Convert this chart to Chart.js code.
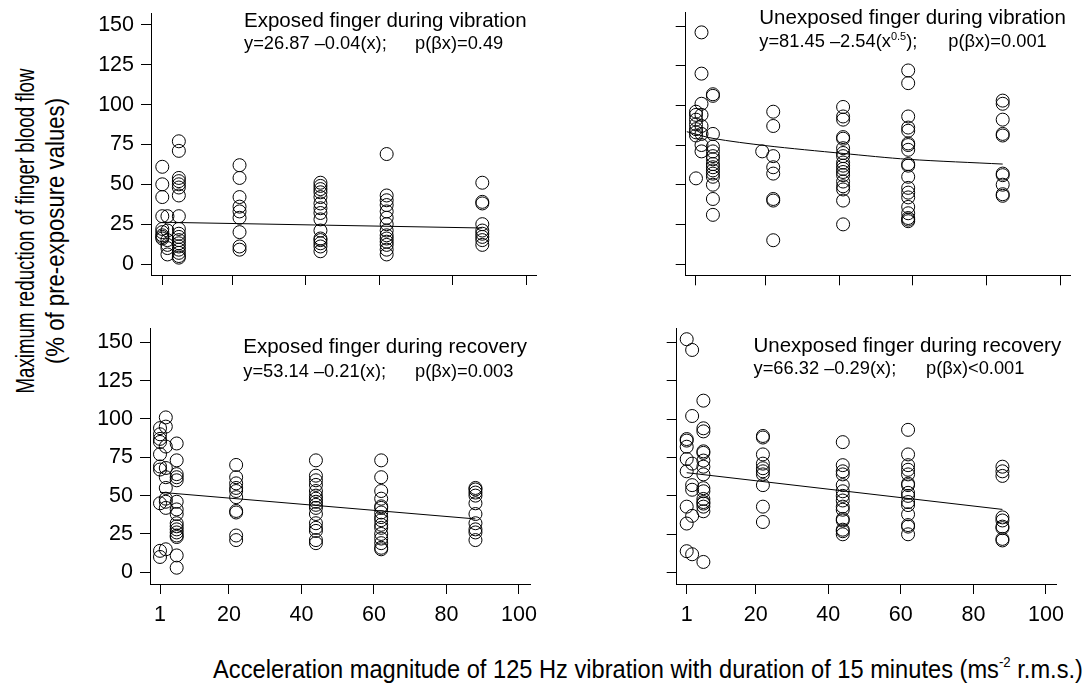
<!DOCTYPE html>
<html><head><meta charset="utf-8">
<script src="https://cdn.jsdelivr.net/npm/chart.js@4.4.1/dist/chart.umd.min.js"></script>
<style>
html,body{margin:0;padding:0;background:#fff;width:1089px;height:687px;overflow:hidden;position:relative;font-family:"Liberation Sans",Arial,sans-serif;color:#000}
canvas{position:absolute}
.t{position:absolute;white-space:nowrap;line-height:1;transform-origin:center center;left:0;top:0}
.t sup{font-size:14px;vertical-align:baseline;position:relative;top:-11px}
</style></head><body>
<canvas id="c0"></canvas>
<canvas id="c1"></canvas>
<canvas id="c2"></canvas>
<canvas id="c3"></canvas>
<div id="ytitle1" class="t" style="font-size:25px">Maximum reduction of finger blood flow</div>
<div id="ytitle2" class="t" style="font-size:25px">(% of pre-exposure values)</div>
<div id="xtitle" class="t" style="font-size:25px">Acceleration magnitude of 125 Hz vibration with duration of 15 minutes (ms<sup>-2</sup> r.m.s.)</div>
<script>
// ---- data ----
const xTicks = [1, 20, 40, 60, 80, 100];
const xTickLabels = ['1', '20', '40', '60', '80', '100'];
const yTicks = [0, 25, 50, 75, 100, 125, 150];
const yTickLabels = ['0', '25', '50', '75', '100', '125', '150'];

// Exposed finger during vibration
const expVibX = [1, 2.4, 5.5, 22, 44, 62, 88];
const expVibY = [
  [61, 50, 42, 30, 22, 20, 18, 17, 16],
  [30, 21, 15, 12, 10, 6],
  [77, 71, 54, 52, 50, 48, 43, 30, 22, 19, 17, 15, 13, 11, 9, 7, 5, 4],
  [62, 54, 42, 36, 33, 29, 20, 11, 9],
  [51, 49, 47, 45, 42, 38, 35, 32, 28, 21, 16, 15, 13, 11, 8],
  [69, 43, 40, 37, 33, 29, 25, 21, 18, 16, 14, 12, 9, 6],
  [51, 39, 38, 25, 21, 19, 17, 15, 12]
];
const expVibFitX = [1, 88];
const expVibFitY = [26.2, 22.6];

// Unexposed finger during vibration
const unexpVibX = [1, 2.5, 5.6, 19, 22, 41, 58.7, 84.4];
const unexpVibY = [
  [96, 94, 91, 88, 85, 83, 81, 54],
  [146, 120, 101, 94, 87, 82, 75, 71],
  [107, 106, 82, 74, 71, 68, 66, 63, 61, 59, 57, 55, 50, 41, 31],
  [71],
  [96, 87, 68, 61, 57, 41, 40, 15],
  [99, 93, 91, 80, 79, 73, 70, 68, 64, 62, 60, 58, 56, 52, 49, 47, 40, 25],
  [122, 114, 93, 86, 84, 76, 75, 72, 63, 62, 55, 48, 45, 42, 36, 32, 29, 28, 27],
  [103, 101, 91, 82, 81, 57, 56, 50, 44, 43]
];
const unexpVibFitX = [-1.5, 5.6, 20, 41, 58.7, 84.4];
const unexpVibFitY = [83.4, 79.2, 74.6, 69.7, 66, 63];

// Exposed finger during recovery
const expRecX = [1, 2.6, 5.6, 22, 44, 62, 88];
const expRecY = [
  [94, 90, 87, 85, 77, 69, 67, 45, 14, 10],
  [101, 95, 82, 68, 62, 55, 48, 46, 42, 15],
  [84, 73, 64, 62, 60, 46, 41, 38, 32, 30, 28, 26, 24, 23, 11, 3],
  [70, 62, 58, 55, 53, 49, 40, 39, 24, 21],
  [73, 63, 60, 57, 53, 50, 48, 46, 44, 42, 38, 32, 29, 27, 21, 19],
  [73, 62, 53, 48, 43, 42, 39, 36, 34, 31, 29, 25, 22, 19, 16, 15],
  [55, 54, 52, 50, 45, 38, 32, 28, 26, 21]
];
const expRecFitX = [1, 88];
const expRecFitY = [52.2, 34.8];

// Unexposed finger during recovery
const unexpRecX = [1, 2.5, 5.6, 22, 44, 62, 88];
const unexpRecY = [
  [152, 87, 86, 82, 74, 66, 43, 32, 14],
  [145, 102, 71, 57, 54, 37, 12],
  [112, 94, 92, 79, 78, 73, 69, 64, 55, 53, 48, 46, 45, 43, 40, 7],
  [89, 88, 77, 71, 68, 66, 64, 57, 43, 33],
  [85, 70, 66, 64, 57, 53, 50, 47, 43, 41, 35, 34, 28, 27, 25],
  [93, 77, 70, 67, 64, 58, 57, 52, 50, 46, 44, 38, 31, 30, 25],
  [69, 66, 63, 36, 34, 30, 29, 22, 21]
];
const unexpRecFitX = [1, 88];
const unexpRecFitY = [65.1, 41.2];

// ---- panel texts ----
const titles = ['Exposed finger during vibration', 'Unexposed finger during vibration',
                'Exposed finger during recovery', 'Unexposed finger during recovery'];
const equations = [
  [['y=26.87 \u20130.04(x);', 0]],
  [['y=81.45 \u20132.54(x', 0], ['0.5', 1], [');', 0]],
  [['y=53.14 \u20130.21(x);', 0]],
  [['y=66.32 \u20130.29(x);', 0]]
];
const pvals = ['p(\u03B2x)=0.49', 'p(\u03B2x)=0.001', 'p(\u03B2x)=0.003', 'p(\u03B2x)<0.001'];

const FONT = "'Liberation Sans', Arial, sans-serif";

const panels = [
  {id:'c0', cx:85, cy:0, cw:470, ch:300, al:151, at:13, ar:536, ab:275, xmin:-2.07, xmax:102.6, ymin:-6.9, ymax:157.5,
   xs:expVibX, ys:expVibY, fx:expVibFitX, fy:expVibFitY, xlab:false, ylab:true, k:0,
   tpos:[244, 26.7], epos:[244, 49.3], ppos:[415, 49.3], tension:0},
  {id:'c1', cx:620, cy:0, cw:469, ch:300, al:685.7, at:12.7, ar:1070, ab:275.3, xmin:-1.8, xmax:102.7, ymin:-7.1, ymax:158.4,
   xs:unexpVibX, ys:unexpVibY, fx:unexpVibFitX, fy:unexpVibFitY, xlab:false, ylab:false, k:1,
   tpos:[759.3, 24], epos:[759.3, 47.3], ppos:[948.3, 47.3], tension:0.3},
  {id:'c2', cx:85, cy:300, cw:470, ch:340, al:150, at:328.3, ar:530, ab:584, xmin:-1.76, xmax:103.04, ymin:-7.63, ymax:159.1,
   xs:expRecX, ys:expRecY, fx:expRecFitX, fy:expRecFitY, xlab:true, ylab:true, k:2,
   tpos:[243.3, 353.3], epos:[243.3, 376.7], ppos:[415, 376.7], tension:0},
  {id:'c3', cx:620, cy:300, cw:469, ch:340, al:676.7, at:328.3, ar:1056, ab:584, xmin:-1.756, xmax:102.76, ymin:-7.36, ymax:159.1,
   xs:unexpRecX, ys:unexpRecY, fx:unexpRecFitX, fy:unexpRecFitY, xlab:true, ylab:false, k:3,
   tpos:[753.5, 351.7], epos:[753.5, 374], ppos:[926, 374], tension:0}
];

function textPlugin(p) {
  return {
    id: 'panelText',
    afterDraw(chart) {
      const ctx = chart.ctx;
      ctx.save();
      ctx.fillStyle = '#000';
      ctx.textBaseline = 'alphabetic';
      ctx.textAlign = 'left';
      ctx.font = '20.5px ' + FONT;
      ctx.fillText(titles[p.k], p.tpos[0] - p.cx, p.tpos[1] - p.cy);
      let x = p.epos[0] - p.cx;
      const y = p.epos[1] - p.cy;
      equations[p.k].forEach(([t, sup]) => {
        ctx.font = (sup ? '11px ' : '18.3px ') + FONT;
        ctx.fillText(t, x, sup ? y - 7 : y);
        x += ctx.measureText(t).width;
      });
      ctx.font = '18.3px ' + FONT;
      ctx.fillText(pvals[p.k], p.ppos[0] - p.cx, p.ppos[1] - p.cy);
      ctx.restore();
    }
  };
}

function makeChart(p) {
  const cv = document.getElementById(p.id);
  cv.width = p.cw; cv.height = p.ch;
  cv.style.left = p.cx + 'px'; cv.style.top = p.cy + 'px';
  cv.style.width = p.cw + 'px'; cv.style.height = p.ch + 'px';
  const pts = [];
  p.xs.forEach((x, i) => p.ys[i].forEach(y => pts.push({x, y})));
  const fit = p.fx.map((x, i) => ({x, y: p.fy[i]}));
  const gridCfg = {display:true, drawOnChartArea:false, drawTicks:true, tickLength:10, color:'#000', tickColor:'#000', lineWidth:1, tickWidth:1};
  const borderCfg = {display:true, color:'#000', width:1};
  new Chart(cv, {
    type: 'scatter',
    data: {datasets: [
      {data: pts, pointStyle:'circle', pointRadius:6.5, pointHoverRadius:6.5, borderWidth:1,
       borderColor:'#000', backgroundColor:'rgba(0,0,0,0)', showLine:false, clip:false},
      {data: fit, showLine:true, pointRadius:0, pointHoverRadius:0, borderColor:'#000', borderWidth:1,
       backgroundColor:'rgba(0,0,0,0)', tension:p.tension, fill:false, clip:false}
    ]},
    options: {
      responsive:false, animation:false, devicePixelRatio:1, events:[],
      layout: {padding: {left:0, top:p.at - p.cy, right:p.cx + p.cw - p.ar, bottom:0}},
      plugins: {legend:{display:false}, tooltip:{enabled:false}},
      scales: {
        x: {type:'linear', min:p.xmin, max:p.xmax,
            afterBuildTicks: s => { s.ticks = xTicks.map(v => ({value:v})); },
            afterFit: s => { s.height = p.cy + p.ch - p.ab; s.paddingLeft = 0; s.paddingRight = 0; s.paddingTop = 0; s.paddingBottom = 0; },
            ticks: {autoSkip:false, maxRotation:0, minRotation:0, padding:8, color:'#000',
                    font:{family:FONT, size:21.5}, callback:(v, i) => p.xlab ? xTickLabels[i] : ''},
            grid: gridCfg, border: borderCfg},
        y: {type:'linear', min:p.ymin, max:p.ymax,
            afterBuildTicks: s => { s.ticks = yTicks.map(v => ({value:v})); },
            afterFit: s => { s.width = p.al - p.cx; s.paddingTop = 0; s.paddingBottom = 0; s.paddingLeft = 0; s.paddingRight = 0; },
            ticks: {autoSkip:false, padding:7, color:'#000',
                    font:{family:FONT, size:21.5}, callback:(v, i) => p.ylab ? yTickLabels[i] : ''},
            grid: gridCfg, border: borderCfg}
      }
    },
    plugins: [textPlugin(p)]
  });
}
panels.forEach(makeChart);

function place(id, cx, cy, targetW, rot) {
  const el = document.getElementById(id);
  const w = el.offsetWidth;
  const s = targetW / w;
  el.style.left = cx + 'px';
  el.style.top = cy + 'px';
  el.style.transform = 'translate(-50%,-50%) ' + (rot ? 'rotate(-90deg) ' : '') + 'scaleX(' + s + ')';
}
place('ytitle1', 25, 231, 325, true);
place('ytitle2', 55, 231, 266, true);
place('xtitle', 648, 669, 870, false);
</script>
</body></html>
